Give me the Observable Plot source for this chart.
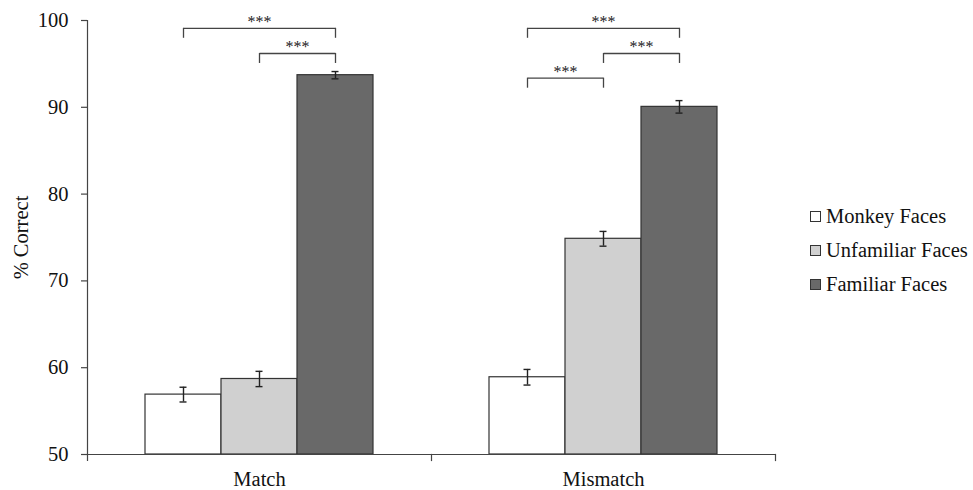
<!DOCTYPE html>
<html>
<head>
<meta charset="utf-8">
<script src="https://cdn.jsdelivr.net/npm/d3@7"></script>
<script src="https://cdn.jsdelivr.net/npm/@observablehq/plot@0.6"></script>
<style>
  html, body { margin: 0; padding: 0; background: #fff; }
  #wrap { position: relative; width: 973px; height: 490px; font-family: "Liberation Serif", "Times New Roman", serif; }
  #chart { position: absolute; left: 0; top: 0; }
  #legend { position: absolute; left: 810px; top: 200px; font-size: 20.5px; color: #111; }
  .item { display: flex; align-items: center; height: 33.7px; white-space: nowrap; }
  .sw { width: 11px; height: 11px; box-sizing: border-box; border: 1px solid #333; margin-right: 5px; }
</style>
</head>
<body>
<div id="wrap">
  <div id="chart"></div>
  <div id="legend"></div>
</div>
<script>
// ---- data ----
const groups = ["Match", "Mismatch"];
const series = ["Monkey Faces", "Unfamiliar Faces", "Familiar Faces"];
const seriesColors = ["#ffffff", "#d0d0d0", "#696969"];
const matchValues = [56.9, 58.7, 93.7];
const matchErrors = [0.85, 0.88, 0.42];
const mismatchValues = [58.9, 74.85, 90.05];
const mismatchErrors = [0.9, 0.85, 0.72];
const yTicks = [50, 60, 70, 80, 90, 100];

// significance brackets
const bracketGroups = ["Match", "Match", "Mismatch", "Mismatch", "Mismatch"];
const bracketFrom = ["Monkey Faces", "Unfamiliar Faces", "Monkey Faces", "Unfamiliar Faces", "Monkey Faces"];
const bracketTo = ["Familiar Faces", "Familiar Faces", "Familiar Faces", "Familiar Faces", "Unfamiliar Faces"];
const bracketLevels = [99.1, 96.2, 99.1, 96.2, 93.35];
const bracketLabels = ["***", "***", "***", "***", "***"];
const bracketDrop = 1.15;

// ---- tables ----
const valuesByGroup = [matchValues, mismatchValues];
const errorsByGroup = [matchErrors, mismatchErrors];
const bars = groups.flatMap((g, gi) => series.map((s, si) => ({
  group: g, series: s, value: valuesByGroup[gi][si], error: errorsByGroup[gi][si]
})));
const brackets = bracketGroups.map((g, i) => ({
  group: g, from: bracketFrom[i], to: bracketTo[i], level: bracketLevels[i], label: bracketLabels[i]
}));
const bracketEnds = brackets.flatMap(b => [
  {group: b.group, series: b.from, level: b.level},
  {group: b.group, series: b.to, level: b.level}
]);

const axisColor = "#444";
const serif = "'Liberation Serif', 'Times New Roman', serif";

const chart = Plot.plot({
  width: 780,
  height: 490,
  marginLeft: 86,
  marginRight: 5,
  marginTop: 20,
  marginBottom: 36,
  style: { fontFamily: serif, fontSize: "20.5px", color: "#111", background: "#fff" },
  fx: { domain: groups, padding: 0 },
  x: { domain: series, paddingInner: 0, paddingOuter: 0.74, axis: null },
  y: { domain: [50, 100], axis: null },
  color: { domain: series, range: seriesColors },
  marks: [
    Plot.barY(bars, { fx: "group", x: "series", y1: 50, y2: "value", fill: "series", stroke: "#333", strokeWidth: 1.2 }),
    Plot.ruleX(bars, { fx: "group", x: "series", y1: d => d.value - d.error, y2: d => d.value + d.error, stroke: "#222", strokeWidth: 1.4 }),
    Plot.tickY(bars, { fx: "group", x: "series", y: d => d.value + d.error, stroke: "#222", strokeWidth: 1.4, insetLeft: 34.5, insetRight: 34.5 }),
    Plot.tickY(bars, { fx: "group", x: "series", y: d => d.value - d.error, stroke: "#222", strokeWidth: 1.4, insetLeft: 34.5, insetRight: 34.5 }),
    // brackets
    Plot.link(brackets, { fx: "group", x1: "from", x2: "to", y1: "level", y2: "level", stroke: axisColor, strokeWidth: 1.3 }),
    Plot.ruleX(bracketEnds, { fx: "group", x: "series", y1: "level", y2: d => d.level - bracketDrop, stroke: axisColor, strokeWidth: 1.3 }),
    Plot.text(brackets, {
      fx: "group", x: "from", y: d => d.level + 0.75, text: "label", fontSize: 16, fill: "#222",
      channels: { xto: { value: "to", scale: "x" } },
      render: (index, scales, values, dims, ctx, next) => {
        const X = Float64Array.from(values.x, (v, i) => (v + values.xto[i]) / 2);
        return next(index, scales, { ...values, x: X }, dims, ctx);
      }
    }),
    // axes
    Plot.ruleY([50], { stroke: axisColor, strokeWidth: 1.2 }),
    Plot.frame({ anchor: "left", facetAnchor: "left", stroke: axisColor, strokeWidth: 1.2, insetBottom: -6 }),
    Plot.frame({ anchor: "right", stroke: axisColor, strokeWidth: 1.2, insetTop: 434, insetBottom: -6 }),
    Plot.axisY({ ticks: yTicks, tickSize: 6, tickPadding: 13, stroke: axisColor, strokeWidth: 1.2,
      label: "% Correct", labelAnchor: "center", labelOffset: 74, labelArrow: "none", fontSize: 20.5 }),
    Plot.axisFx({ anchor: "bottom", tickSize: 0, tickPadding: 17, label: null, fontSize: 20.5 })
  ]
});
document.getElementById("chart").appendChild(chart);

// legend
const legend = document.getElementById("legend");
series.forEach((s, i) => {
  const row = document.createElement("div");
  row.className = "item";
  const sw = document.createElement("div");
  sw.className = "sw";
  sw.style.background = seriesColors[i];
  const t = document.createElement("span");
  t.textContent = s;
  row.appendChild(sw);
  row.appendChild(t);
  legend.appendChild(row);
});
</script>
</body>
</html>
